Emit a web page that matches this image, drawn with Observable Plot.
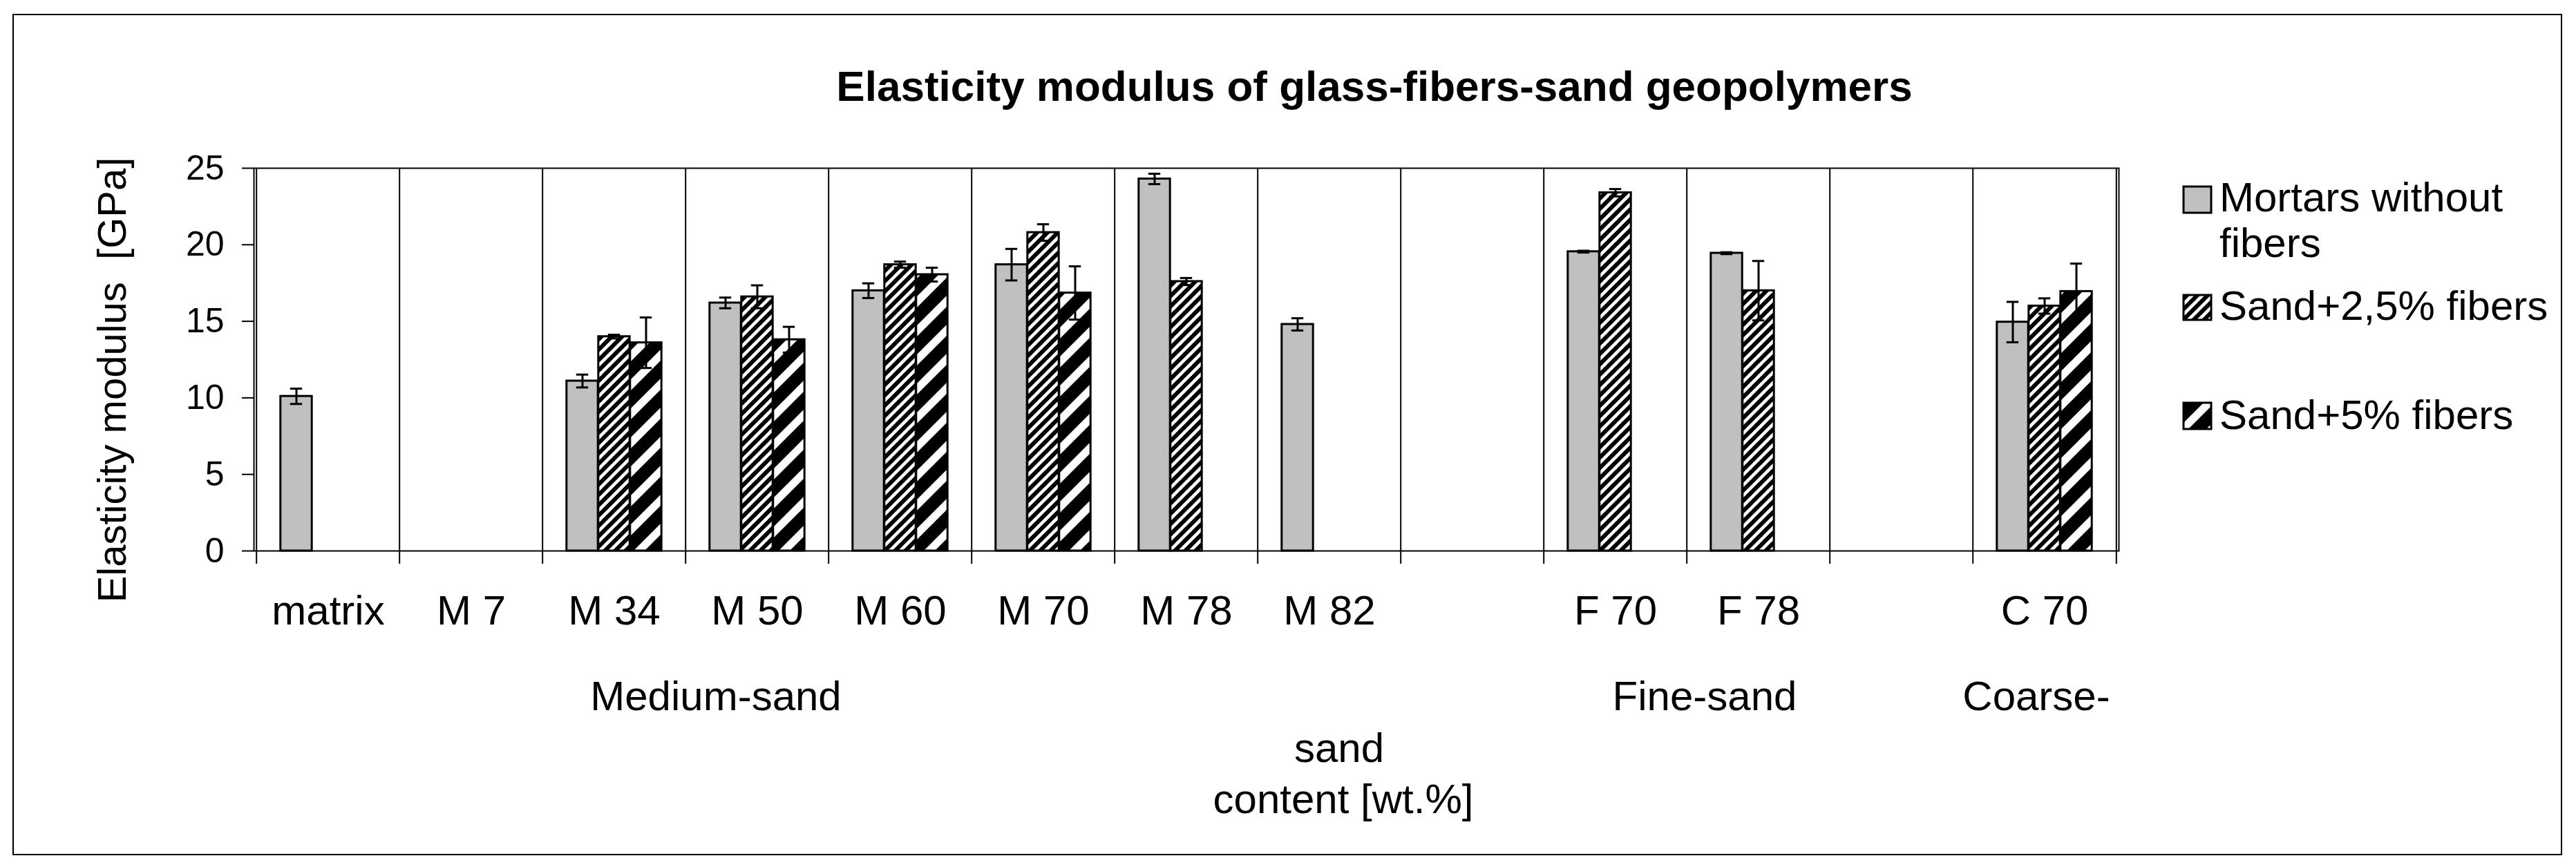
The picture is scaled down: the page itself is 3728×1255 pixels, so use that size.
<!DOCTYPE html>
<html><head><meta charset="utf-8">
<script src="https://cdn.jsdelivr.net/npm/d3@7"></script>
<script src="https://cdn.jsdelivr.net/npm/@observablehq/plot@0.6"></script>
<style>
html,body{margin:0;padding:0;background:#fff;}
#wrap{position:relative;width:3728px;height:1255px;overflow:hidden;background:#fff;}
#wrap > svg{position:absolute;left:0;top:0;}
</style></head><body><div id="wrap"></div>
<script>
// ---- data ----
const categories = ["matrix","M 7","M 34","M 50","M 60","M 70","M 78","M 82"," ","F 70","F 78","  ","C 70"];
const seriesNames = ["Mortars without fibers","Sand+2,5% fibers","Sand+5% fibers"];
const mortars    = [10.1, null, 11.1, 16.2, 17.0, 18.7, 24.3, 14.8, null, 19.55, 19.45, null, 14.95];
const mortarsErr = [0.5,  null, 0.42, 0.35, 0.48, 1.03, 0.34, 0.4,  null, 0.06,  0.06,  null, 1.32];
const sand25     = [null, null, 14.0, 16.6, 18.7, 20.8, 17.6, null, null, 23.4,  17.0,  null, 16.0];
const sand25Err  = [null, null, 0.12, 0.75, 0.2,  0.54, 0.23, null, null, 0.24,  1.94,  null, 0.5];
const sand5      = [null, null, 13.6, 13.8, 18.05,16.85,null, null, null, null,  null,  null, 16.95];
const sand5Err   = [null, null, 1.65, 0.84, 0.45, 1.74, null, null, null, null,  null,  null, 1.82];
const yTicks = [0, 5, 10, 15, 20, 25];
const titleText = "Elasticity modulus of glass-fibers-sand geopolymers";
const yTitle = "Elasticity modulus  [GPa]";
const groupLabels = ["Medium-sand", "Fine-sand", "Coarse-", "sand", "content [wt.%]"];
const legendLines = [["Mortars without", "fibers"], ["Sand+2,5% fibers"], ["Sand+5% fibers"]];

// ---- layout / style ----
const W = 3728, H = 1255;
const mL = 367, mR = 662, mT = 243, mB = 458;
const FONT = "'Liberation Sans', Arial, Helvetica, sans-serif";
const bw = (W - mL - mR) / categories.length;
const barW = 46, capW = 18;
const seriesStyle = [
  {fill: "#c0c0c0", off: -barW},
  {fill: "url(#pat25)", off: 0},
  {fill: "url(#pat5)", off: barW}
];
const seriesData = [[mortars, mortarsErr], [sand25, sand25Err], [sand5, sand5Err]];
const rows = seriesData.map(([vals, errs], s) =>
  vals.map((v, i) => ({cat: categories[i], series: seriesNames[s], value: v, err: errs[i]}))
      .filter(d => d.value != null));

const marks = [
  Plot.frame({stroke: "black", strokeWidth: 2}),
  Plot.ruleX(categories, {x: d => d, dx: -bw / 2, insetBottom: -19, stroke: "black", strokeWidth: 2}),
  Plot.ruleX([categories[categories.length - 1]], {x: d => d, dx: bw / 2, insetBottom: -19, stroke: "black", strokeWidth: 2})
];
rows.forEach((data, s) => {
  const {fill, off} = seriesStyle[s];
  marks.push(Plot.barY(data, {
    x: "cat", y: "value", fill, stroke: "black", strokeWidth: 3,
    insetLeft: bw / 2 + off - barW / 2, insetRight: bw / 2 - off - barW / 2
  }));
});
rows.forEach((data, s) => {
  const {off} = seriesStyle[s];
  marks.push(Plot.ruleX(data, {x: "cat", y1: d => d.value - d.err, y2: d => d.value + d.err, dx: off, stroke: "black", strokeWidth: 3}));
  marks.push(Plot.tickY(data, {x: "cat", y: d => d.value + d.err, insetLeft: bw / 2 + off - capW / 2, insetRight: bw / 2 - off - capW / 2, stroke: "black", strokeWidth: 3}));
  marks.push(Plot.tickY(data, {x: "cat", y: d => d.value - d.err, insetLeft: bw / 2 + off - capW / 2, insetRight: bw / 2 - off - capW / 2, stroke: "black", strokeWidth: 3}));
});
marks.push(Plot.axisY({ticks: yTicks, tickSize: 17, tickPadding: 26, fontSize: 50, strokeWidth: 2, label: null}));
marks.push(Plot.axisX({tickSize: 0, tickPadding: 64, fontSize: 60, label: null}));

const chart = Plot.plot({
  width: W, height: H,
  marginLeft: mL, marginRight: mR, marginTop: mT, marginBottom: mB,
  x: {type: "band", domain: categories, padding: 0},
  y: {domain: [0, 25]},
  style: {fontFamily: FONT, fontSize: "50px", background: "transparent", color: "black", overflow: "visible"},
  marks
});

function addPattern(defs, id, P, t) {
  const p = defs.append("pattern").attr("id", id).attr("patternUnits", "userSpaceOnUse")
    .attr("width", P).attr("height", P);
  p.append("rect").attr("width", P).attr("height", P).attr("fill", "black");
  const h = t / 2;
  p.append("polygon").attr("points", `0,${P - h} ${P - h},0 ${P},0 ${P},${h} ${h},${P} 0,${P}`).attr("fill", "white");
  p.append("polygon").attr("points", `0,0 ${h},0 0,${h}`).attr("fill", "white");
  p.append("polygon").attr("points", `${P},${P} ${P - h},${P} ${P},${P - h}`).attr("fill", "white");
}
const cdefs = d3.select(chart).insert("defs", ":first-child");
addPattern(cdefs, "pat25", 15, 6.5);
addPattern(cdefs, "pat5", 42, 16);

const wrap = document.getElementById("wrap");
wrap.appendChild(chart);

// ---- overlay: border, title, axis title, group labels, legend ----
const ov = d3.create("svg").attr("width", W).attr("height", H)
  .style("font-family", FONT).style("pointer-events", "none");
const odefs = ov.append("defs");
addPattern(odefs, "pat25L", 15, 6.5);
addPattern(odefs, "pat5L", 42, 16);

ov.append("rect").attr("x", 19).attr("y", 21).attr("width", 3688).attr("height", 1216)
  .attr("fill", "none").attr("stroke", "black").attr("stroke-width", 2);

ov.append("text").attr("x", 1989).attr("y", 146).attr("text-anchor", "middle")
  .attr("font-size", 62).attr("font-weight", "bold").text(titleText);

ov.append("text").attr("transform", "translate(182,550) rotate(-90)").attr("text-anchor", "middle")
  .attr("xml:space", "preserve").style("white-space", "pre")
  .attr("font-size", 58).text(yTitle);

const groupPos = [[1036, 1028], [2467, 1028], [2947, 1028], [1938, 1103], [1944, 1177]];
groupLabels.forEach((t, i) => {
  ov.append("text").attr("x", groupPos[i][0]).attr("y", groupPos[i][1]).attr("text-anchor", "middle")
    .attr("font-size", 60).text(t);
});

const legendFill = ["#c0c0c0", "url(#pat25L)", "url(#pat5L)"];
const legendBox = [[270, 38], [427, 36], [583, 38]];
const legendBase = [[306, 372], [463], [621]];
seriesNames.forEach((name, i) => {
  ov.append("rect").attr("x", 3160).attr("y", legendBox[i][0]).attr("width", 40).attr("height", legendBox[i][1])
    .attr("fill", legendFill[i]).attr("stroke", "black").attr("stroke-width", 3);
  legendLines[i].forEach((ln, j) => {
    ov.append("text").attr("x", 3212).attr("y", legendBase[i][j]).attr("font-size", 60).text(ln);
  });
});
wrap.appendChild(ov.node());
</script>
</body></html>
